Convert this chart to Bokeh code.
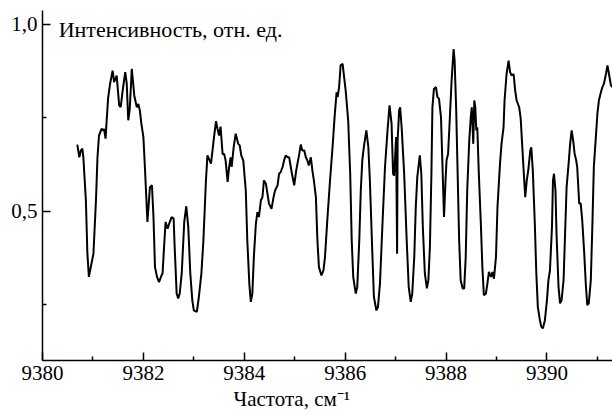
from bokeh.plotting import figure
from bokeh.models import FixedTicker, Label, Range1d, Title
from bokeh.embed import file_html
from bokeh.resources import INLINE

freq = [
    9380.69, 9380.73, 9380.76, 9380.79, 9380.81, 9380.86, 9380.89, 9380.92, 9380.97, 9381.01,
    9381.06, 9381.09, 9381.12, 9381.17, 9381.21, 9381.22, 9381.25, 9381.27, 9381.30, 9381.34,
    9381.39, 9381.42, 9381.47, 9381.49, 9381.52, 9381.55, 9381.59, 9381.64, 9381.67, 9381.70,
    9381.73, 9381.77, 9381.82, 9381.87, 9381.90, 9381.93, 9381.96, 9382.00, 9382.03, 9382.08,
    9382.13, 9382.17, 9382.20, 9382.23, 9382.27, 9382.31, 9382.36,
    9382.38, 9382.41, 9382.44, 9382.48, 9382.51, 9382.56, 9382.60, 9382.62, 9382.66, 9382.69,
    9382.72, 9382.76, 9382.81, 9382.85, 9382.89, 9382.93, 9382.97, 9383.00, 9383.06, 9383.10,
    9383.15, 9383.19, 9383.24, 9383.27, 9383.30, 9383.34, 9383.37, 9383.40, 9383.44, 9383.47,
    9383.50, 9383.53, 9383.57, 9383.60, 9383.63, 9383.67, 9383.70, 9383.73, 9383.75, 9383.79,
    9383.83, 9383.88, 9383.91, 9383.94, 9383.98, 9384.03, 9384.06, 9384.10, 9384.13,
    9384.16, 9384.19, 9384.23, 9384.26, 9384.29, 9384.33, 9384.36, 9384.39, 9384.43, 9384.46,
    9384.49, 9384.54, 9384.58, 9384.61, 9384.66, 9384.69, 9384.72, 9384.76, 9384.79, 9384.82,
    9384.86, 9384.89, 9384.94, 9384.99, 9385.03, 9385.09, 9385.12, 9385.15, 9385.19, 9385.22,
    9385.25, 9385.28, 9385.32, 9385.35, 9385.38, 9385.42, 9385.45, 9385.48, 9385.53, 9385.57,
    9385.60, 9385.65, 9385.70, 9385.75, 9385.79, 9385.83, 9385.85, 9385.88, 9385.91,
    9385.95, 9385.98, 9386.01, 9386.06, 9386.10, 9386.13, 9386.16, 9386.21, 9386.24, 9386.28,
    9386.31, 9386.34, 9386.37, 9386.42, 9386.46, 9386.49, 9386.53, 9386.57, 9386.62, 9386.65,
    9386.69, 9386.74, 9386.79, 9386.84, 9386.88, 9386.92, 9386.95, 9386.97, 9386.99, 9387.01,
    9387.03, 9387.04, 9387.07, 9387.09, 9387.12, 9387.17, 9387.22, 9387.26, 9387.30, 9387.33,
    9387.37, 9387.40, 9387.43, 9387.48, 9387.51, 9387.54, 9387.58, 9387.62, 9387.65, 9387.68,
    9387.71,
    9387.73, 9387.76, 9387.80, 9387.83, 9387.86, 9387.90, 9387.93, 9387.96, 9387.99, 9388.01,
    9388.04, 9388.07, 9388.11, 9388.15, 9388.17, 9388.20, 9388.23, 9388.26, 9388.29, 9388.33,
    9388.36, 9388.39, 9388.42, 9388.46, 9388.49, 9388.51, 9388.54, 9388.56, 9388.58, 9388.60,
    9388.62, 9388.65, 9388.69, 9388.72, 9388.75, 9388.79, 9388.82, 9388.85, 9388.89, 9388.92,
    9388.95, 9388.99, 9389.02, 9389.07, 9389.10, 9389.14, 9389.16, 9389.20, 9389.24, 9389.27,
    9389.30, 9389.34, 9389.37, 9389.40, 9389.45,
    9389.48, 9389.51, 9389.55, 9389.57, 9389.60, 9389.63, 9389.67, 9389.69, 9389.72, 9389.76,
    9389.79, 9389.82, 9389.86, 9389.89, 9389.92, 9389.96, 9390.00, 9390.03, 9390.06, 9390.10,
    9390.12, 9390.14, 9390.17, 9390.19, 9390.23, 9390.26, 9390.29, 9390.33, 9390.36, 9390.39,
    9390.43, 9390.46, 9390.49, 9390.52, 9390.55, 9390.58, 9390.60, 9390.64, 9390.67, 9390.70,
    9390.74, 9390.77, 9390.80, 9390.83, 9390.87, 9390.90, 9390.93, 9390.97, 9391.00, 9391.03,
    9391.07, 9391.10, 9391.13, 9391.17, 9391.20, 9391.23, 9391.27, 9391.30,
]

intensity = [
    0.678, 0.644, 0.662, 0.667, 0.644, 0.529, 0.386, 0.324, 0.359, 0.386,
    0.529, 0.644, 0.702, 0.720, 0.716, 0.720, 0.694, 0.738, 0.801, 0.841,
    0.876, 0.845, 0.863, 0.832, 0.783, 0.778, 0.823, 0.872, 0.841, 0.743,
    0.774, 0.881, 0.809, 0.778, 0.787, 0.769, 0.734, 0.698, 0.618, 0.471,
    0.564, 0.569, 0.484, 0.350, 0.324, 0.310, 0.328,
    0.333, 0.404, 0.471, 0.453, 0.466, 0.484, 0.480, 0.404, 0.279, 0.266,
    0.279, 0.333, 0.471, 0.513, 0.457, 0.333, 0.261, 0.234, 0.230, 0.270,
    0.333, 0.422, 0.582, 0.649, 0.640, 0.627, 0.662, 0.698, 0.741, 0.720,
    0.702, 0.726, 0.653, 0.653, 0.636, 0.578, 0.618, 0.644, 0.618, 0.671,
    0.707, 0.680, 0.676, 0.649, 0.636, 0.555, 0.422, 0.306, 0.257,
    0.279, 0.377, 0.466, 0.497, 0.484, 0.529, 0.537, 0.582, 0.573, 0.546,
    0.520, 0.506, 0.537, 0.555, 0.569, 0.600, 0.604, 0.618, 0.636, 0.649,
    0.644, 0.644, 0.604, 0.569, 0.609, 0.653, 0.678, 0.662, 0.662, 0.644,
    0.636, 0.622, 0.644, 0.609, 0.582, 0.537, 0.422, 0.350, 0.328, 0.341,
    0.377, 0.484, 0.582, 0.671, 0.751, 0.818, 0.805, 0.832, 0.890,
    0.894, 0.858, 0.823, 0.743, 0.600, 0.422, 0.324, 0.279, 0.297, 0.422,
    0.555, 0.636, 0.671, 0.716, 0.671, 0.582, 0.422, 0.270, 0.234, 0.243,
    0.306, 0.466, 0.618, 0.716, 0.783, 0.734, 0.600, 0.595, 0.644, 0.698,
    0.386, 0.689, 0.769, 0.778, 0.724, 0.600, 0.422, 0.297, 0.257, 0.279,
    0.377, 0.511, 0.591, 0.649, 0.600, 0.457, 0.333, 0.293, 0.315, 0.404,
    0.600,
    0.778, 0.827, 0.832, 0.805, 0.801, 0.751, 0.618, 0.484, 0.582, 0.636,
    0.653, 0.734, 0.849, 0.934, 0.903, 0.778, 0.600, 0.422, 0.315, 0.293,
    0.293, 0.377, 0.555, 0.689, 0.751, 0.778, 0.680, 0.796, 0.778, 0.716,
    0.724, 0.600, 0.466, 0.350, 0.275, 0.279, 0.306, 0.337, 0.324, 0.337,
    0.319, 0.377, 0.511, 0.627, 0.680, 0.724, 0.796, 0.867, 0.903, 0.872,
    0.863, 0.867, 0.823, 0.796, 0.778,
    0.748, 0.676, 0.582, 0.537, 0.582, 0.609, 0.662, 0.671, 0.609, 0.466,
    0.333, 0.243, 0.208, 0.190, 0.186, 0.208, 0.261, 0.315, 0.341, 0.457,
    0.582, 0.600, 0.555, 0.440, 0.297, 0.253, 0.261, 0.315, 0.440, 0.564,
    0.627, 0.680, 0.716, 0.689, 0.653, 0.636, 0.618, 0.520, 0.520, 0.475,
    0.386, 0.306, 0.248, 0.253, 0.315, 0.457, 0.618, 0.698, 0.760, 0.796,
    0.818, 0.832, 0.841, 0.867, 0.890, 0.867, 0.836, 0.832,
]

x_major = [9380, 9382, 9384, 9386, 9388, 9390]
x_minor = [9381, 9383, 9385, 9387, 9389, 9391]
y_major = [0.5, 1.0]
y_minor = [0.25, 0.75]
y_tick_labels = {0.5: "0,5", 1.0: "1,0"}
y_title = "Интенсивность, отн. ед."
x_title = "Частота, см\u207b\u00b9"

FONT = "Liberation Serif"

p = figure(width=612, height=414, output_backend="svg", toolbar_location=None,
           x_range=Range1d(9380, 9391.3), y_range=Range1d(0.1, 1.037),
           min_border_left=42, min_border_right=0, min_border_top=10,
           min_border_bottom=54)

p.line(freq, intensity, line_color="black", line_width=2)

p.grid.visible = False
p.outline_line_color = None
p.background_fill_color = "white"
p.border_fill_color = "white"

for ax in (p.xaxis[0], p.yaxis[0]):
    ax.axis_line_color = "black"
    ax.axis_line_width = 1.5
    ax.major_tick_in = 8
    ax.major_tick_out = 0
    ax.minor_tick_in = 4
    ax.minor_tick_out = 0
    ax.major_tick_line_color = "black"
    ax.minor_tick_line_color = "black"
    ax.major_tick_line_width = 1.5
    ax.minor_tick_line_width = 1.5
    ax.major_label_text_font = FONT
    ax.major_label_text_font_size = "21px"
    ax.major_label_text_font_style = "normal"
    ax.major_label_text_color = "black"

p.xaxis.major_label_standoff = 5
p.yaxis.major_label_standoff = 5
p.xaxis.ticker = FixedTicker(ticks=x_major, minor_ticks=x_minor)
p.yaxis.ticker = FixedTicker(ticks=y_major, minor_ticks=y_minor)
p.yaxis.major_label_overrides = y_tick_labels

p.add_layout(Label(x=9380.32, y=0.985, text=y_title, text_font=FONT,
                   text_font_size="22px", text_color="black",
                   text_baseline="alphabetic"))

p.add_layout(Title(text=x_title, align="left", offset=191, text_font=FONT,
                   text_font_size="21px", text_font_style="normal",
                   text_color="black", standoff=4), "below")

open("out.html", "w").write(file_html(p, INLINE))
